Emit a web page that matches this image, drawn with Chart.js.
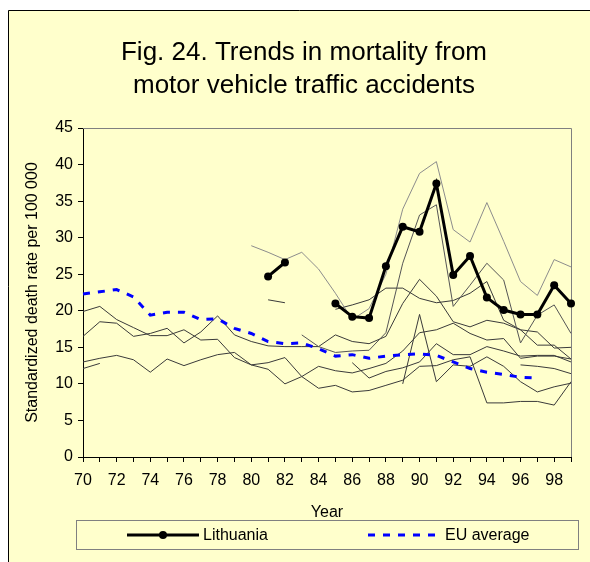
<!DOCTYPE html>
<html>
<head>
<meta charset="utf-8">
<script src="https://cdn.jsdelivr.net/npm/chart.js@4.4.1/dist/chart.umd.min.js"></script>
<style>
  html, body { margin: 0; padding: 0; background: #fff; }
</style>
</head>
<body>
<canvas id="chart" width="590" height="562"></canvas>
<script>
const years = ["70","71","72","73","74","75","76","77","78","79",
               "80","81","82","83","84","85","86","87","88","89",
               "90","91","92","93","94","95","96","97","98","99"];

const lithuania = [null, null, null, null, null, null, null, null, null, null,
                   null, 24.7, 26.6, null, null, 21.0, 19.2, 19.0, 26.1, 31.5,
                   30.8, 37.4, 24.9, 27.5, 21.8, 20.1, 19.5, 19.5, 23.5, 21.0];
const euAverage = [22.3, 22.6, 22.9, 21.9, 19.4, 19.8, 19.8, 18.8, 18.9, 17.6,
                   16.9, 15.8, 15.5, 15.6, 14.8, 13.8, 14.0, 13.5, 13.8, 14.0,
                   14.1, 13.9, 13.0, 12.1, 11.6, 11.3, 10.9, 10.8, null, null];

// other countries, thin lines without names in the legend
const countryA = [null, null, null, null, null, null, null, null, null, null,
                  28.9, 28.0, 27.0, 28.0, 25.7, 22.4, 18.8, 20.3, 25.0, 33.9,
                  38.8, 40.4, 31.1, 29.4, 34.8, 29.5, 24.0, 22.1, 27.0, 26.0];
const countryB = [null, null, null, null, null, null, null, null, null, null,
                  null, null, null, 16.7, 15.1, 14.3, 14.5, 14.6, 17.0, 26.5,
                  33.1, 34.5, 20.6, 23.5, 26.5, 24.2, 15.6, 19.4, 20.8, 16.9];
const countryC = [null, null, null, null, null, null, null, null, null, null,
                  null, null, null, null, null, 20.2, 20.8, 21.5, 23.1, 23.1,
                  21.7, 21.1, 21.4, 22.4, 24.0, 18.7, 17.4, 17.1, 14.9, 15.0];
const countryD = [16.5, 18.5, 18.3, 16.5, 16.9, 17.6, 15.6, 17.1, 19.3, 16.7,
                  15.8, 15.2, 15.1, 15.1, 15.1, 16.7, 15.8, 15.5, 16.5, 21.0,
                  24.3, 22.0, 18.5, 17.8, 18.7, 18.3, 17.4, 15.3, 15.3, 13.4];
const countryE = [19.9, 20.6, 18.8, 17.7, 16.6, 16.6, 17.4, 16.0, 16.1, 13.6,
                  12.6, 12.0, 10.0, 11.0, 12.4, 11.8, 11.5, 12.1, 12.8, 14.5,
                  17.0, 17.4, 18.3, 16.9, 16.0, 16.2, 13.5, 13.8, 13.8, 13.4];
const countryF = [13.0, 13.5, 13.9, 13.3, 11.6, 13.4, 12.5, 13.3, 14.0, 14.3,
                  12.6, 12.9, 13.6, 11.0, 9.4, 9.8, 8.9, 9.1, 9.8, 10.5,
                  12.4, 12.5, 13.3, 13.7, 7.4, 7.4, 7.6, 7.6, 7.1, 10.3];
const countryG = [null, null, null, null, null, null, null, null, null, null,
                  null, null, null, null, null, null, 12.9, 10.8, 11.7, 12.2,
                  13.0, 15.5, 14.0, 14.0, 15.1, 14.5, 13.8, 13.9, 13.9, 13.0];
const countryH = [null, null, null, null, null, null, null, null, null, null,
                  null, null, null, null, null, null, null, null, null, 10.0,
                  19.5, 10.3, 12.6, 12.4, 13.7, 12.4, 10.3, 8.9, 9.6, 10.1];
const countryI = [null, null, null, null, null, null, null, null, null, null,
                  null, null, null, null, null, null, null, null, null, null,
                  null, null, null, null, null, null, 12.6, 12.4, 12.1, 11.4];
const countryJ = [12.1, 12.8, null, null, null, null, null, null, null, null,
                  null, null, null, null, null, null, null, null, null, null,
                  null, null, null, null, null, null, null, null, null, null];
const countryK = [null, null, null, null, null, null, null, null, null, null,
                  null, 21.5, 21.1, null, null, null, null, null, null, null,
                  null, null, null, null, null, null, null, null, null, null];

const titleLines = ["Fig. 24. Trends in mortality from", "motor vehicle traffic accidents"];
const paper = "#FFFFCC";
const font = '"Liberation Sans", Arial, sans-serif';

function other(data, color) {
    return {
        label: "",
        data: data,
        borderColor: color,
        borderWidth: 1,
        pointRadius: 0,
        tension: 0,
        order: 3
    };
}

const decorations = {
    id: "decorations",
    beforeDraw(chart) {
        const ctx = chart.ctx;
        ctx.save();
        ctx.fillStyle = "#fff";
        ctx.fillRect(0, 0, chart.width, chart.height);
        ctx.fillStyle = paper;
        ctx.fillRect(8, 10, chart.width - 8, chart.height - 10);
        ctx.strokeStyle = "#000";
        ctx.lineWidth = 1;
        ctx.beginPath();
        ctx.moveTo(8.5, chart.height);
        ctx.lineTo(8.5, 10.5);
        ctx.lineTo(chart.width, 10.5);
        ctx.stroke();

        ctx.fillStyle = "#000";
        ctx.font = "26px " + font;
        ctx.textAlign = "center";
        ctx.textBaseline = "middle";
        titleLines.forEach((t, i) => ctx.fillText(t, 304, 53 + i * 33));
        ctx.restore();
    },
    beforeDatasetsDraw(chart) {
        const {ctx, chartArea} = chart;
        ctx.save();
        ctx.strokeStyle = "#808080";
        ctx.lineWidth = 1;
        ctx.beginPath();
        ctx.moveTo(chartArea.left, chartArea.top + 0.5);
        ctx.lineTo(chartArea.right + 0.5, chartArea.top + 0.5);
        ctx.lineTo(chartArea.right + 0.5, chartArea.bottom);
        ctx.stroke();
        ctx.restore();
    },
    afterDraw(chart) {
        const ctx = chart.ctx;
        const lit = chart.data.datasets[0];
        const eu = chart.data.datasets[1];
        const y = 535;
        ctx.save();
        ctx.fillStyle = paper;
        ctx.fillRect(76, 520, 502, 29);
        ctx.strokeStyle = "#808080";
        ctx.lineWidth = 1;
        ctx.strokeRect(76.5, 520.5, 502, 29);

        ctx.strokeStyle = lit.borderColor;
        ctx.lineWidth = lit.borderWidth;
        ctx.beginPath();
        ctx.moveTo(127, y);
        ctx.lineTo(199, y);
        ctx.stroke();
        ctx.fillStyle = lit.pointBackgroundColor;
        ctx.beginPath();
        ctx.arc(163, y, lit.pointRadius, 0, Math.PI * 2);
        ctx.fill();

        ctx.strokeStyle = eu.borderColor;
        ctx.lineWidth = eu.borderWidth;
        ctx.setLineDash(eu.borderDash);
        ctx.beginPath();
        ctx.moveTo(368, y);
        ctx.lineTo(437, y);
        ctx.stroke();
        ctx.setLineDash([]);

        ctx.fillStyle = "#000";
        ctx.font = "16px " + font;
        ctx.textAlign = "left";
        ctx.textBaseline = "middle";
        ctx.fillText(lit.label, 203, y + 1);
        ctx.fillText(eu.label, 445, y + 1);
        ctx.restore();
    }
};

new Chart(document.getElementById("chart"), {
    type: "line",
    data: {
        labels: years,
        datasets: [
            {
                label: "Lithuania",
                data: lithuania,
                borderColor: "#000",
                borderWidth: 3,
                pointRadius: 4,
                pointBackgroundColor: "#000",
                pointBorderColor: "#000",
                pointBorderWidth: 0,
                order: 1
            },
            {
                label: "EU average",
                data: euAverage,
                borderColor: "#0000FF",
                borderWidth: 3,
                borderDash: [7, 8],
                pointRadius: 0,
                order: 2
            },
            other(countryA, "#8c8c8c"),
            other(countryB, "#555"),
            other(countryC, "#3a3a3a"),
            other(countryD, "#3a3a3a"),
            other(countryE, "#3a3a3a"),
            other(countryF, "#3a3a3a"),
            other(countryG, "#3a3a3a"),
            other(countryH, "#3a3a3a"),
            other(countryI, "#3a3a3a"),
            other(countryJ, "#3a3a3a"),
            other(countryK, "#3a3a3a")
        ]
    },
    options: {
        responsive: false,
        animation: false,
        layout: {
            padding: { left: 8, right: 19, top: 128, bottom: 35 }
        },
        plugins: {
            legend: { display: false },
            title: { display: false },
            tooltip: { enabled: false }
        },
        scales: {
            x: {
                type: "category",
                offset: false,
                afterFit: scale => { scale.height = 70; },
                border: { color: "#000", width: 1 },
                grid: {
                    drawOnChartArea: false,
                    drawTicks: true,
                    tickLength: 5,
                    color: "#000"
                },
                ticks: {
                    autoSkip: false,
                    maxRotation: 0,
                    padding: 9,
                    color: "#000",
                    font: { family: font, size: 16 },
                    callback: (value, index) => index % 2 === 0 ? years[index] : ""
                },
                title: {
                    display: true,
                    text: "Year",
                    color: "#000",
                    font: { family: font, size: 16 },
                    padding: { top: 0, bottom: 5 }
                }
            },
            y: {
                min: 0,
                max: 45,
                afterFit: scale => { scale.width = 75; },
                border: { color: "#000", width: 1 },
                grid: {
                    drawOnChartArea: false,
                    drawTicks: true,
                    tickLength: 5,
                    color: "#000"
                },
                ticks: {
                    stepSize: 5,
                    padding: 5,
                    color: "#000",
                    font: { family: font, size: 16 }
                },
                title: {
                    display: true,
                    text: "Standardized death rate per 100 000",
                    color: "#000",
                    font: { family: font, size: 16 },
                    padding: { top: 15, bottom: 0 }
                }
            }
        }
    },
    plugins: [decorations]
});
</script>
</body>
</html>
